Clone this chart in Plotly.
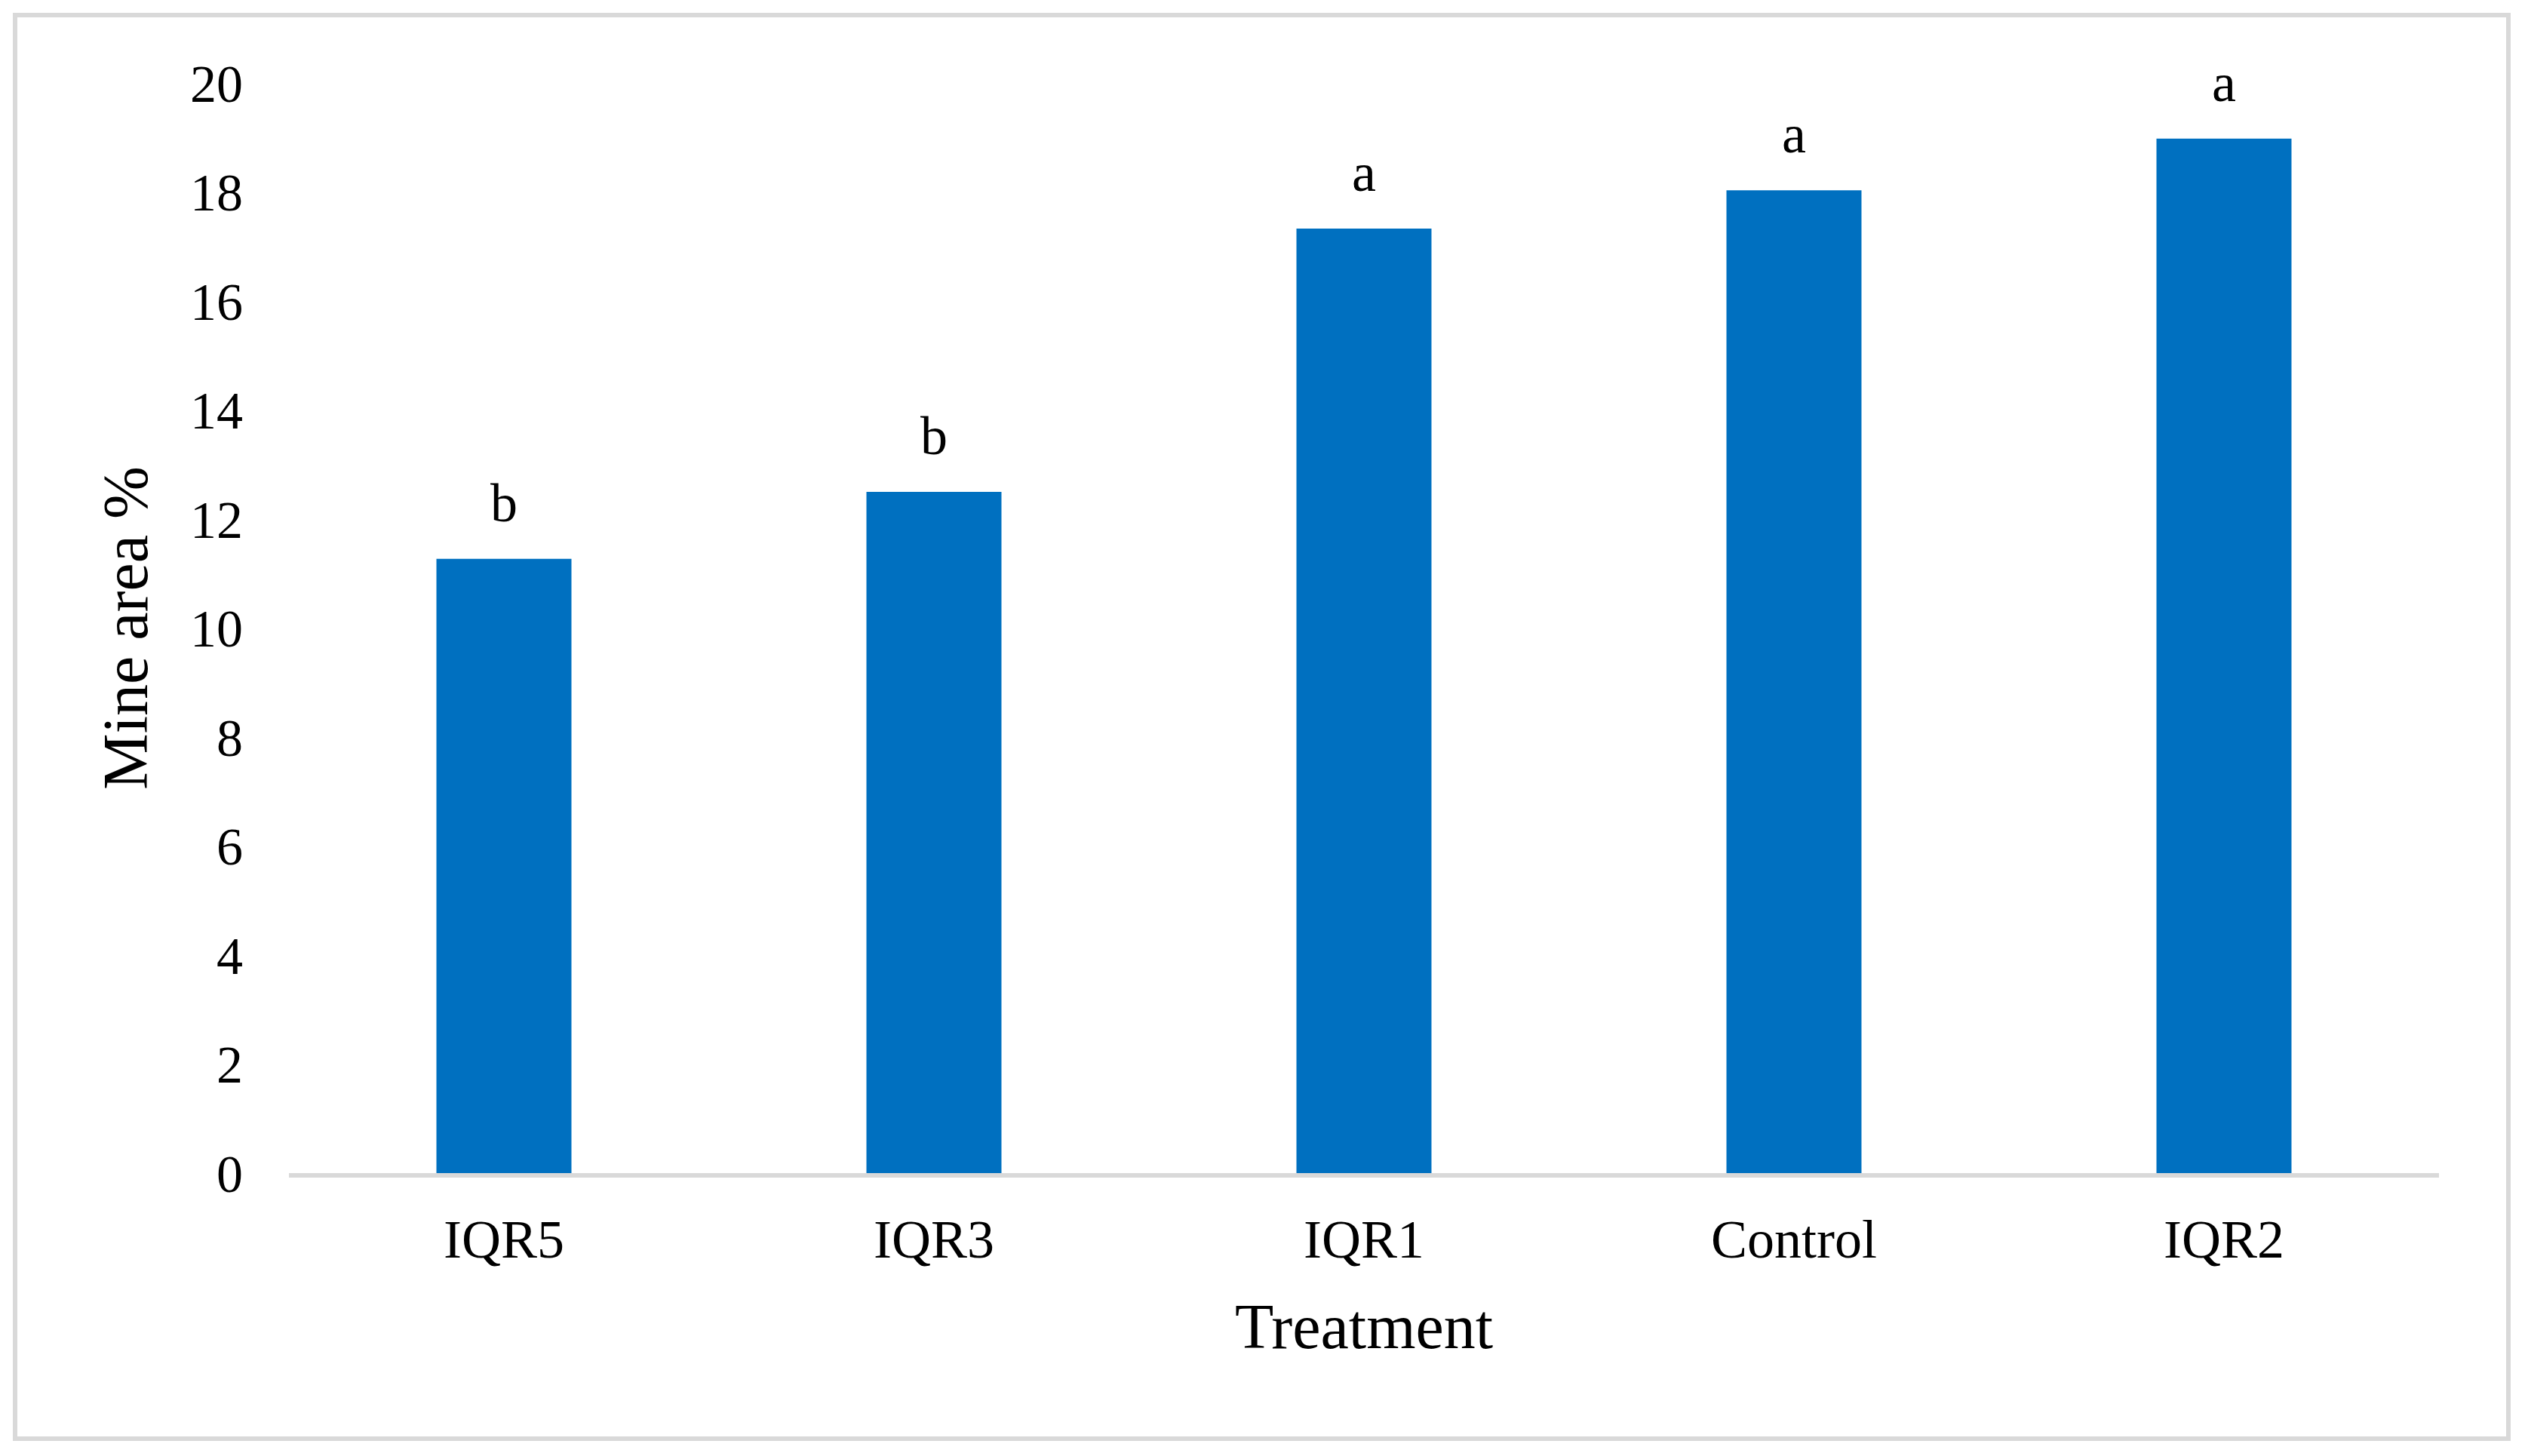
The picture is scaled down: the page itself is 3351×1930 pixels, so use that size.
import plotly.graph_objects as go

treatments = ["IQR5", "IQR3", "IQR1", "Control", "IQR2"]
mine_area = [11.27, 12.5, 17.33, 18.03, 18.98]
group_letters = ["b", "b", "a", "a", "a"]
y_ticks = [0, 2, 4, 6, 8, 10, 12, 14, 16, 18, 20]

W, H = 3351, 1930
ML, MR, MT, MB = 383, 118, 110, 375
FONT = "Liberation Serif, Times New Roman, serif"

fig = go.Figure()
fig.add_trace(go.Bar(
    x=treatments, y=mine_area,
    marker=dict(color="#0070C0", line=dict(width=0)),
    showlegend=False,
))

for t, v, l in zip(treatments, mine_area, group_letters):
    fig.add_annotation(x=t, y=v, text=l, showarrow=False, yanchor="bottom",
                       yshift=32, font=dict(family=FONT, size=72, color="black"))

# outer frame
pw = W - ML - MR
ph = H - MT - MB
def px_x(p):
    return (p - ML) / pw
def px_y(p):
    return (H - MB - p) / ph
fig.add_shape(type="rect", xref="paper", yref="paper",
              x0=px_x(20), x1=px_x(3325), y0=px_y(1907), y1=px_y(20),
              line=dict(color="#d9d9d9", width=6), fillcolor="rgba(0,0,0,0)", layer="below")

fig.update_layout(
    width=W, height=H,
    margin=dict(l=ML, r=MR, t=MT, b=MB),
    paper_bgcolor="white", plot_bgcolor="white",
    bargap=0.686,
    font=dict(family=FONT, color="black"),
    xaxis=dict(
        showline=True, linecolor="#d9d9d9", linewidth=6,
        ticks="", showgrid=False, zeroline=False,
        tickfont=dict(family=FONT, size=72, color="black"),
        ticklabelstandoff=20,
        title=dict(text="Treatment", font=dict(family=FONT, size=84, color="black"), standoff=48),
    ),
    yaxis=dict(
        range=[0, 20], tickvals=y_ticks, ticks="", showgrid=False, zeroline=False,
        showline=False,
        tickfont=dict(family=FONT, size=70, color="black"),
        ticklabelstandoff=60,
        title=dict(text="Mine area %", font=dict(family=FONT, size=84, color="black"), standoff=28),
    ),
)

fig.write_html("out.html", config={"displayModeBar": False},
               post_script="document.body.style.margin='0';document.body.style.overflow='hidden';")
